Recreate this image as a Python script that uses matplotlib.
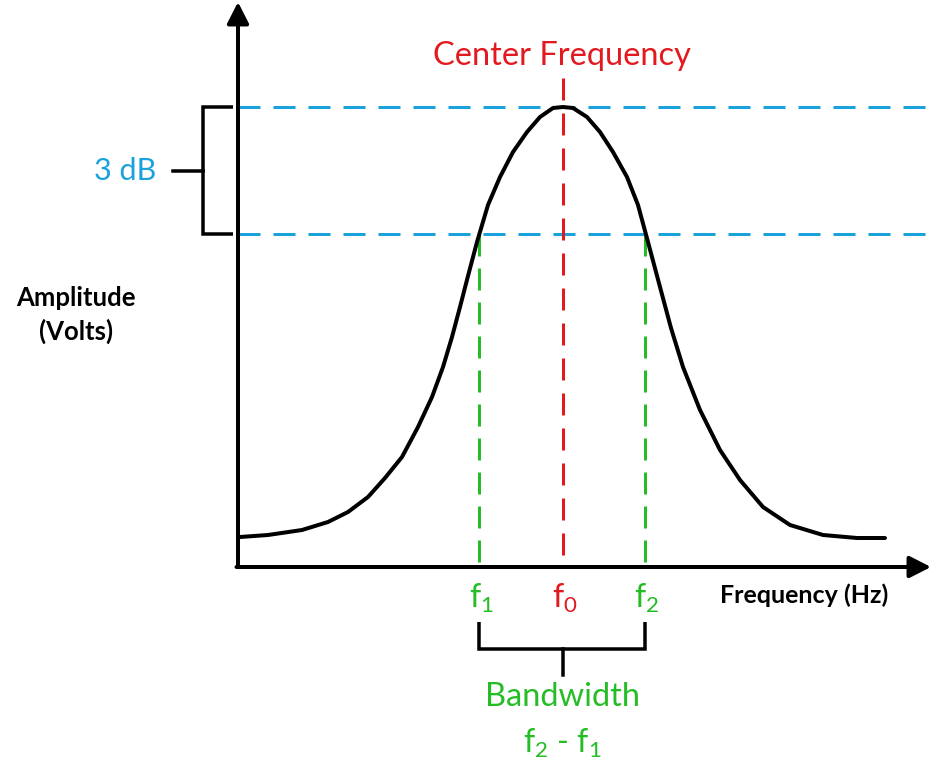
import matplotlib
matplotlib.use('Agg')
import matplotlib.pyplot as plt

FONT = 'Lato'
plt.rcParams['mathtext.fontset'] = 'custom'
plt.rcParams['mathtext.rm'] = FONT
plt.rcParams['mathtext.it'] = FONT

# bell curve (pixel coords, y grows downward)
curve_x = [240, 268, 302, 328, 348, 368, 385, 402, 418, 432, 443, 452, 460, 468, 477,
           488, 500, 513, 527, 540, 553, 563, 573, 587, 600, 613, 627, 638, 648,
           660, 671, 683, 700, 720, 740, 763, 790, 823, 857, 885]
curve_y = [537, 535, 530, 522, 512, 497, 478, 457, 427, 397, 367, 337, 307, 276, 242,
           205, 177, 152, 132, 117, 108, 107, 108, 117, 132, 152, 177, 205, 242,
           287, 328, 367, 410, 450, 480, 507, 525, 535, 538, 538]

f_marks = [479, 563, 645]          # f1, f0, f2
f_labels = [r'$\mathrm{f}_1$', r'$\mathrm{f}_0$', r'$\mathrm{f}_2$']
peak_level = 107
cut_level = 234

BLUE = '#1ba1db'
RED = '#e2191e'
GREEN = '#25bd25'

W, H = 933, 780
fig = plt.figure(figsize=(W / 100, H / 100), dpi=100)
ax = fig.add_axes([0, 0, 1, 1])
ax.set_xlim(0, W)
ax.set_ylim(H, 0)
ax.axis('off')

px = 0.72  # points per pixel
origin = (238, 567)

def dash(lw, on=22, off=13):
  return (0, (on * px / lw, off * px / lw))

# horizontal 3 dB reference lines
dlw = 3 * px
for lvl in [peak_level, cut_level]:
  ax.plot([origin[0], W], [lvl, lvl], color=BLUE, lw=dlw, linestyle=dash(dlw), zorder=1)

# center frequency and cut-off lines
ax.plot([f_marks[1], f_marks[1]], [78, origin[1]], color=RED, lw=dlw, linestyle=dash(dlw), zorder=1)
for f in [f_marks[0], f_marks[2]]:
  ax.plot([f, f], [cut_level, origin[1]], color=GREEN, lw=dlw, linestyle=dash(dlw, 22, 12), zorder=1)

# the curve
ax.plot(curve_x, curve_y, color='black', lw=4 * px, solid_capstyle='round',
        solid_joinstyle='round', zorder=3)

# axes with arrows
alw = 4 * px
astyle = '-|>,head_length=0.65,head_width=0.33'
ax.annotate('', xy=(origin[0], 2), xytext=(origin[0], origin[1]),
            arrowprops=dict(arrowstyle=astyle, lw=alw, color='black',
                            shrinkA=0, shrinkB=0, mutation_scale=20))
ax.annotate('', xy=(931, origin[1]), xytext=(origin[0] - 1.5, origin[1]),
            arrowprops=dict(arrowstyle=astyle, lw=alw, color='black',
                            shrinkA=0, shrinkB=0, mutation_scale=20))

# 3 dB bracket
blw = 3.5 * px
ax.plot([233, 203, 203, 233], [peak_level, peak_level, cut_level, cut_level],
        color='black', lw=blw, solid_joinstyle='miter', solid_capstyle='butt')
ax.plot([173, 203], [171, 171], color='black', lw=blw)
ax.text(125, 171, '3 dB', color=BLUE, fontsize=22, family=FONT, ha='center', va='center')

# bandwidth bracket
ax.plot([f_marks[0], f_marks[0], f_marks[2], f_marks[2]], [622, 649, 649, 622],
        color='black', lw=blw, solid_joinstyle='miter', solid_capstyle='butt')
ax.plot([f_marks[1], f_marks[1]], [649, 675], color='black', lw=blw)

# labels
ax.text(f_marks[1] - 1, 56, 'Center Frequency', color=RED, fontsize=23.5, family=FONT,
        ha='center', va='center')
for f, lab, c in zip(f_marks, f_labels, [GREEN, RED, GREEN]):
  ax.text(f + 2, 598, lab, color=c, fontsize=23, family=FONT, ha='center', va='center')
ax.text(562, 697, 'Bandwidth', color=GREEN, fontsize=23.5, family=FONT, ha='center', va='center')
ax.text(562, 743, r'$\mathrm{f}_2$ - $\mathrm{f}_1$', color=GREEN, fontsize=23, family=FONT,
        ha='center', va='center')
ax.text(804, 595, 'Frequency (Hz)', color='black', fontsize=18, family=FONT,
        fontweight='bold', ha='center', va='center')
ax.text(76, 298, 'Amplitude', color='black', fontsize=18.5, family=FONT,
        fontweight='bold', ha='center', va='center')
ax.text(76, 331, '(Volts)', color='black', fontsize=18.5, family=FONT,
        fontweight='bold', ha='center', va='center')

fig.savefig('out.png', dpi=100)
